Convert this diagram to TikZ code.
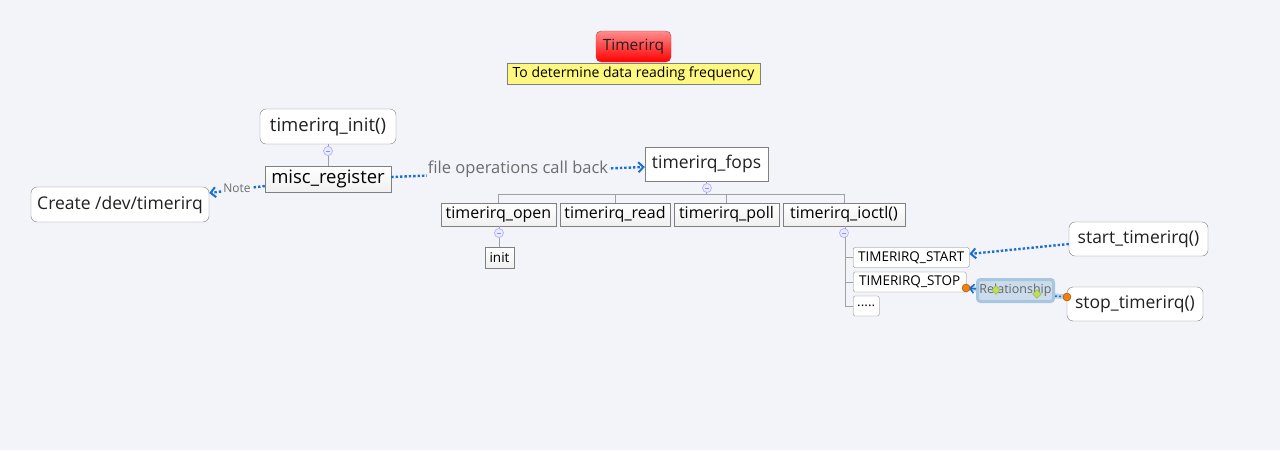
\documentclass[tikz,border=0pt]{standalone}
\usepackage{fontspec}
\setmainfont{Open Sans}
\usetikzlibrary{arrows.meta,shapes.geometric}
\definecolor{bg}{HTML}{F2F4F9}
\definecolor{bluel}{HTML}{1A6FD0}
\definecolor{bord}{HTML}{808080}
\definecolor{treel}{HTML}{A0A0A0}
\definecolor{textc}{HTML}{202020}
\definecolor{relfill}{HTML}{CBDCEC}
\definecolor{reldraw}{HTML}{A9C6E0}
\tikzset{
  topic/.style={draw=bord, fill=white, rounded corners=6pt, inner sep=0pt, text=textc},
  plain/.style={draw=bord, fill=white, inner sep=0pt, text=textc},
  sub/.style={draw=bord, top color=white, bottom color=gray!12, inner sep=0pt, text=black},
  leaf/.style={draw=bord, fill=white, rounded corners=1.5pt, inner sep=0pt, text=black},
  tree/.style={draw=treel, line width=0.9pt},
  dotarrow/.style={draw=bluel, line width=2.4pt, dash pattern=on 2.4pt off 2pt, -{Straight Barb[length=5pt,width=10pt,line width=2pt]}},
  collapse/.style={circle, draw=blue!30, fill=blue!8, minimum size=9pt, inner sep=0pt, line width=0.7pt},
  lbl/.style={text=gray!85!black, inner sep=1pt, fill=bg},
}
\newcommand{\collapsemark}[2]{\node[collapse] (#1) at (#2) {};
  \draw[blue!45, line width=0.8pt] ([xshift=-2.2pt]#1.center) -- ([xshift=2.2pt]#1.center);}
\begin{document}
\begin{tikzpicture}[x=1pt,y=-1pt]
\fill[bg] (0,0) rectangle (1280,450);
\useasboundingbox (0,0) rectangle (1280,450);

% title
\node[draw=red!50!black!70, rounded corners=5pt, top color=red!45, bottom color=red, minimum width=75pt, minimum height=31pt, inner sep=0pt, font=\fontsize{15.5}{17}\selectfont, text=textc] (title) at (633.5,46.5) {Timerirq};
\node[draw=bord, fill=yellow!50, minimum width=253pt, minimum height=21pt, inner sep=0pt, font=\fontsize{14}{16}\selectfont, text=black] (note) at (633.5,73.5) {To determine data reading frequency};

% init / misc_register
\node[topic, minimum width=136pt, minimum height=35pt, font=\fontsize{18.5}{21}\selectfont] (init) at (328,126.5) {timerirq\_init()};
\node[sub, minimum width=126pt, minimum height=26pt, font=\fontsize{18.5}{21}\selectfont] (misc) at (328,179) {misc\_register};
\draw[tree] (init.south) -- (misc.north);
\collapsemark{c1}{328,151}

\node[topic, minimum width=178pt, minimum height=35pt, font=\fontsize{17.5}{20}\selectfont] (create) at (120,204.5) {Create /dev/timerirq};

% fops
\node[plain, minimum width=123pt, minimum height=34pt, font=\fontsize{17.5}{20}\selectfont] (fops) at (706.5,164) {timerirq\_fops};

\draw[dotarrow] (misc.west |- 0,186) -- (create.east |- 0,193);
\node[lbl, font=\fontsize{12}{14}\selectfont] (notelbl) at (237,188) {Note};

\draw[dotarrow] (misc.east |- 0,177) -- (fops.west |- 0,167);
\node[lbl, font=\fontsize{16.5}{18}\selectfont] (fopslbl) at (518,169) {file operations call back};

% children
\begin{scope}[every node/.style={sub, minimum height=23pt, font=\fontsize{16}{18}\selectfont}]
\node[minimum width=115pt] (open) at (498.5,214.5) {timerirq\_open};
\node[minimum width=110pt] (read) at (615,214.5) {timerirq\_read};
\node[minimum width=105pt] (poll) at (726.5,214.5) {timerirq\_poll};
\node[minimum width=122pt] (ioctl) at (844,214.5) {timerirq\_ioctl()};
\end{scope}
\coordinate (hb) at (0,194);
\draw[tree] (fops.south) -- (fops.south |- hb);
\draw[tree] (open.north) -- (open.north |- hb) -- (ioctl.north |- hb) -- (ioctl.north);
\draw[tree] (read.north) -- (read.north |- hb);
\draw[tree] (poll.north) -- (poll.north |- hb);
\collapsemark{c2}{707,188}

\node[sub, minimum width=29pt, minimum height=21pt, font=\fontsize{13.5}{15}\selectfont] (initleaf) at (499.5,257.5) {init};
\draw[tree] (open.south -| initleaf.north) -- (initleaf.north);
\collapsemark{c3}{499,233}

% ioctl leaves
\begin{scope}[every node/.style={leaf, minimum height=20pt, font=\fontsize{13.5}{15}\selectfont, anchor=west}]
\node[minimum width=116pt] (start) at (853,257.5) {TIMERIRQ\_START};
\node[minimum width=113pt] (stop) at (853,282) {TIMERIRQ\_STOP};
\node[minimum width=26pt] (dots) at (853,306) {.....};
\end{scope}
\coordinate (vx) at (845,0);
\draw[tree] (ioctl.south -| vx) -- (vx |- dots.west) -- (dots.west);
\draw[tree] (vx |- start.west) -- (start.west);
\draw[tree] (vx |- stop.west) -- (stop.west);
\collapsemark{c4}{844,233}

% right topics
\node[topic, minimum width=139pt, minimum height=34pt, font=\fontsize{17.5}{20}\selectfont] (starttr) at (1138.5,239) {start\_timerirq()};
\node[topic, minimum width=136pt, minimum height=34pt, font=\fontsize{17.5}{20}\selectfont] (stoptr) at (1135,304) {stop\_timerirq()};

\draw[dotarrow] (starttr.west |- 0,244) -- (start.east |- 0,254);

% relationship (selected)
\coordinate (ra) at (966,288);
\coordinate (rb) at (1067,297);
\draw[reldraw, line width=5pt, opacity=0.7] (ra) -- (rb);
\node[draw=reldraw, line width=3pt, fill=relfill, rounded corners=3pt, minimum width=76pt, minimum height=22pt, inner sep=0pt, text=gray!80!black, font=\fontsize{12.5}{14}\selectfont] (rellbl) at (1015.5,290.5) {Relationship};
\draw[bluel, line width=1.5pt, dash pattern=on 2pt off 2pt] (rellbl.east |- 0,296) -- (rb) ;
\draw[bluel, line width=1.5pt, -{Straight Barb[length=4pt,width=9pt,line width=1.6pt]}] (rellbl.west |- 0,289) -- ([xshift=3pt]ra);
\node[diamond, fill=yellow!60!green!70, draw=yellow!60!black, line width=0.4pt, minimum size=9pt, inner sep=0pt] (d1) at (996,290) {};
\node[diamond, fill=yellow!60!green!70, draw=yellow!60!black, line width=0.4pt, minimum size=9pt, inner sep=0pt] (d2) at (1037,294) {};
\node[circle, fill=orange!80!brown, draw=orange!60!black, line width=0.4pt, minimum size=8pt, inner sep=0pt] (oa) at (ra) {};
\node[circle, fill=orange!80!brown, draw=orange!60!black, line width=0.4pt, minimum size=8pt, inner sep=0pt] (ob) at (rb) {};
\end{tikzpicture}
\end{document}
